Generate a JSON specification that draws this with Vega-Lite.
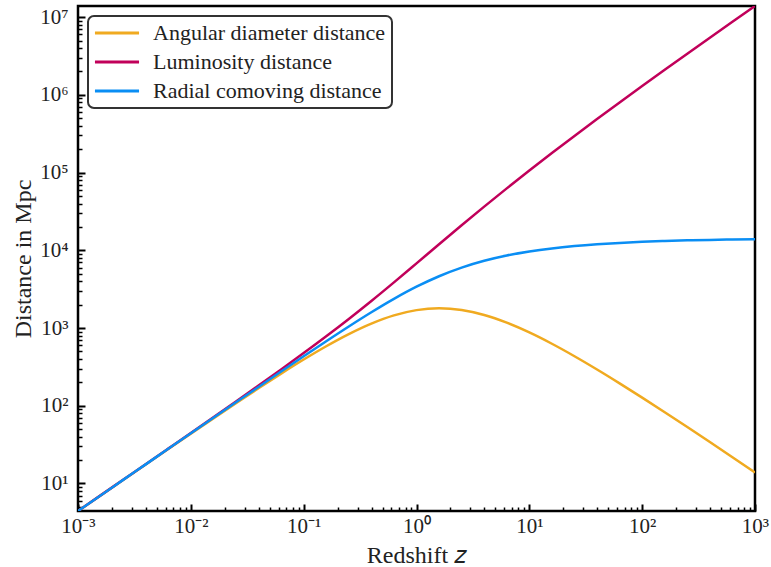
{
  "$schema": "https://vega.github.io/schema/vega-lite/v6.json",
  "autosize": {"type": "none"},
  "padding": {"left": 78, "top": 6, "right": 16, "bottom": 56},
  "width": 677,
  "height": 505,
  "background": "white",
  "config": {
    "view": {"stroke": "black", "strokeWidth": 2.5},
    "font": "Liberation Serif",
    "axis": {
      "domain": false,
      "grid": false,
      "tickColor": "black",
      "labelColor": "#222222",
      "titleColor": "#222222",
      "labelFont": "Liberation Serif",
      "titleFont": "Liberation Serif",
      "labelFontSize": 21,
      "titleFontSize": 24,
      "titleFontWeight": "normal",
      "labelOverlap": false,
      "labelFlush": false,
      "labelBound": false
    },
    "legend": {
      "labelFont": "Liberation Serif",
      "labelFontSize": 22,
      "labelColor": "#222222",
      "labelLimit": 0,
      "symbolType": "M-3,0L3,0",
      "symbolStrokeWidth": 3,
      "symbolSize": 216,
      "symbolOffset": 12,
      "strokeColor": "#333333",
      "strokeWidth": 2,
      "fillColor": "white",
      "cornerRadius": 6,
      "padding": 6,
      "rowPadding": 7,
      "labelOffset": 25
    }
  },
  "data": {
    "values": [
      {"z": 0.001, "d": 4.426, "series": "Angular diameter distance"},
      {"z": 0.001585, "d": 7.007, "series": "Angular diameter distance"},
      {"z": 0.002512, "d": 11.096, "series": "Angular diameter distance"},
      {"z": 0.003981, "d": 17.55, "series": "Angular diameter distance"},
      {"z": 0.00631, "d": 27.74, "series": "Angular diameter distance"},
      {"z": 0.01, "d": 43.77, "series": "Angular diameter distance"},
      {"z": 0.01585, "d": 68.88, "series": "Angular diameter distance"},
      {"z": 0.02512, "d": 107.94, "series": "Angular diameter distance"},
      {"z": 0.03981, "d": 168.06, "series": "Angular diameter distance"},
      {"z": 0.0631, "d": 259.08, "series": "Angular diameter distance"},
      {"z": 0.1, "d": 393.3, "series": "Angular diameter distance"},
      {"z": 0.1585, "d": 583.3, "series": "Angular diameter distance"},
      {"z": 0.2512, "d": 835.8, "series": "Angular diameter distance"},
      {"z": 0.3981, "d": 1140.1, "series": "Angular diameter distance"},
      {"z": 0.631, "d": 1453.6, "series": "Angular diameter distance"},
      {"z": 1, "d": 1699.1, "series": "Angular diameter distance"},
      {"z": 1.585, "d": 1794.2, "series": "Angular diameter distance"},
      {"z": 2.512, "d": 1705.0, "series": "Angular diameter distance"},
      {"z": 3.981, "d": 1471.2, "series": "Angular diameter distance"},
      {"z": 6.31, "d": 1171.9, "series": "Angular diameter distance"},
      {"z": 10, "d": 877.5, "series": "Angular diameter distance"},
      {"z": 15.85, "d": 627.4, "series": "Angular diameter distance"},
      {"z": 25.12, "d": 433.9, "series": "Angular diameter distance"},
      {"z": 39.81, "d": 292.9, "series": "Angular diameter distance"},
      {"z": 63.1, "d": 194.3, "series": "Angular diameter distance"},
      {"z": 100, "d": 127.25, "series": "Angular diameter distance"},
      {"z": 158.5, "d": 82.57, "series": "Angular diameter distance"},
      {"z": 251.2, "d": 53.22, "series": "Angular diameter distance"},
      {"z": 398.1, "d": 34.12, "series": "Angular diameter distance"},
      {"z": 631, "d": 21.79, "series": "Angular diameter distance"},
      {"z": 1000, "d": 13.87, "series": "Angular diameter distance"},
      {"z": 0.001, "d": 4.434, "series": "Luminosity distance"},
      {"z": 0.001585, "d": 7.029, "series": "Luminosity distance"},
      {"z": 0.002512, "d": 11.152, "series": "Luminosity distance"},
      {"z": 0.003981, "d": 17.69, "series": "Luminosity distance"},
      {"z": 0.00631, "d": 28.10, "series": "Luminosity distance"},
      {"z": 0.01, "d": 44.65, "series": "Luminosity distance"},
      {"z": 0.01585, "d": 71.08, "series": "Luminosity distance"},
      {"z": 0.02512, "d": 113.43, "series": "Luminosity distance"},
      {"z": 0.03981, "d": 181.71, "series": "Luminosity distance"},
      {"z": 0.0631, "d": 292.81, "series": "Luminosity distance"},
      {"z": 0.1, "d": 475.9, "series": "Luminosity distance"},
      {"z": 0.1585, "d": 782.8, "series": "Luminosity distance"},
      {"z": 0.2512, "d": 1308.5, "series": "Luminosity distance"},
      {"z": 0.3981, "d": 2228.4, "series": "Luminosity distance"},
      {"z": 0.631, "d": 3866.8, "series": "Luminosity distance"},
      {"z": 1, "d": 6796.2, "series": "Luminosity distance"},
      {"z": 1.585, "d": 11989, "series": "Luminosity distance"},
      {"z": 2.512, "d": 21030, "series": "Luminosity distance"},
      {"z": 3.981, "d": 36501, "series": "Luminosity distance"},
      {"z": 6.31, "d": 62625, "series": "Luminosity distance"},
      {"z": 10, "d": 106179, "series": "Luminosity distance"},
      {"z": 15.85, "d": 178138, "series": "Luminosity distance"},
      {"z": 25.12, "d": 296018, "series": "Luminosity distance"},
      {"z": 39.81, "d": 487802, "series": "Luminosity distance"},
      {"z": 63.1, "d": 798237, "series": "Luminosity distance"},
      {"z": 100, "d": 1298052, "series": "Luminosity distance"},
      {"z": 158.5, "d": 2100615, "series": "Luminosity distance"},
      {"z": 251.2, "d": 3384776, "series": "Luminosity distance"},
      {"z": 398.1, "d": 5434545, "series": "Luminosity distance"},
      {"z": 631, "d": 8702640, "series": "Luminosity distance"},
      {"z": 1000, "d": 13900887, "series": "Luminosity distance"},
      {"z": 0.001, "d": 4.430, "series": "Radial comoving distance"},
      {"z": 0.001585, "d": 7.018, "series": "Radial comoving distance"},
      {"z": 0.002512, "d": 11.124, "series": "Radial comoving distance"},
      {"z": 0.003981, "d": 17.62, "series": "Radial comoving distance"},
      {"z": 0.00631, "d": 27.92, "series": "Radial comoving distance"},
      {"z": 0.01, "d": 44.21, "series": "Radial comoving distance"},
      {"z": 0.01585, "d": 69.97, "series": "Radial comoving distance"},
      {"z": 0.02512, "d": 110.65, "series": "Radial comoving distance"},
      {"z": 0.03981, "d": 174.75, "series": "Radial comoving distance"},
      {"z": 0.0631, "d": 275.43, "series": "Radial comoving distance"},
      {"z": 0.1, "d": 432.6, "series": "Radial comoving distance"},
      {"z": 0.1585, "d": 675.7, "series": "Radial comoving distance"},
      {"z": 0.2512, "d": 1045.8, "series": "Radial comoving distance"},
      {"z": 0.3981, "d": 1593.9, "series": "Radial comoving distance"},
      {"z": 0.631, "d": 2370.8, "series": "Radial comoving distance"},
      {"z": 1, "d": 3398.1, "series": "Radial comoving distance"},
      {"z": 1.585, "d": 4637.9, "series": "Radial comoving distance"},
      {"z": 2.512, "d": 5988.1, "series": "Radial comoving distance"},
      {"z": 3.981, "d": 7328, "series": "Radial comoving distance"},
      {"z": 6.31, "d": 8567, "series": "Radial comoving distance"},
      {"z": 10, "d": 9652.6, "series": "Radial comoving distance"},
      {"z": 15.85, "d": 10572, "series": "Radial comoving distance"},
      {"z": 25.12, "d": 11333, "series": "Radial comoving distance"},
      {"z": 39.81, "d": 11953, "series": "Radial comoving distance"},
      {"z": 63.1, "d": 12453, "series": "Radial comoving distance"},
      {"z": 100, "d": 12852, "series": "Radial comoving distance"},
      {"z": 158.5, "d": 13170, "series": "Radial comoving distance"},
      {"z": 251.2, "d": 13421, "series": "Radial comoving distance"},
      {"z": 398.1, "d": 13617, "series": "Radial comoving distance"},
      {"z": 631, "d": 13770, "series": "Radial comoving distance"},
      {"z": 1000, "d": 13887, "series": "Radial comoving distance"}
    ]
  },
  "mark": {"type": "line", "strokeWidth": 2.5, "interpolate": "monotone", "clip": true},
  "encoding": {
    "x": {
      "field": "z",
      "type": "quantitative",
      "scale": {"type": "log", "domain": [0.001, 1000], "nice": false},
      "axis": {
        "title": "Redshift 𝑧",
        "titlePadding": 4,
        "values": [0.001,0.002,0.003,0.004,0.005,0.006,0.007,0.008,0.009,0.01,0.02,0.03,0.04,0.05,0.06,0.07,0.08,0.09,0.1,0.2,0.3,0.4,0.5,0.6,0.7,0.8,0.9,1,2,3,4,5,6,7,8,9,10,20,30,40,50,60,70,80,90,100,200,300,400,500,600,700,800,900,1000],
        "labelExpr": "abs(log(datum.value)/LN10 - round(log(datum.value)/LN10)) < 0.001 ? '10' + ['⁻³','⁻²','⁻¹','⁰','¹','²','³','⁴','⁵','⁶','⁷'][round(log(datum.value)/LN10) + 3] : ''",
        "tickSize": {"condition": {"test": "abs(log(datum.value)/LN10 - round(log(datum.value)/LN10)) < 0.001", "value": -7}, "value": -4},
        "tickWidth": {"condition": {"test": "abs(log(datum.value)/LN10 - round(log(datum.value)/LN10)) < 0.001", "value": 2}, "value": 1.5},
        "labelPadding": 11
      }
    },
    "y": {
      "field": "d",
      "type": "quantitative",
      "scale": {"type": "log", "domain": [4.426, 13900887], "nice": false},
      "axis": {
        "title": "Distance in Mpc",
        "titlePadding": 4,
        "values": [5,6,7,8,9,10,20,30,40,50,60,70,80,90,100,200,300,400,500,600,700,800,900,1000,2000,3000,4000,5000,6000,7000,8000,9000,10000,20000,30000,40000,50000,60000,70000,80000,90000,100000,200000,300000,400000,500000,600000,700000,800000,900000,1000000,2000000,3000000,4000000,5000000,6000000,7000000,8000000,9000000,10000000],
        "labelExpr": "abs(log(datum.value)/LN10 - round(log(datum.value)/LN10)) < 0.001 ? '10' + ['⁻³','⁻²','⁻¹','⁰','¹','²','³','⁴','⁵','⁶','⁷'][round(log(datum.value)/LN10) + 3] : ''",
        "tickSize": {"condition": {"test": "abs(log(datum.value)/LN10 - round(log(datum.value)/LN10)) < 0.001", "value": -7}, "value": -4},
        "tickWidth": {"condition": {"test": "abs(log(datum.value)/LN10 - round(log(datum.value)/LN10)) < 0.001", "value": 2}, "value": 1.5},
        "labelPadding": 17
      }
    },
    "color": {
      "field": "series",
      "type": "nominal",
      "scale": {
        "domain": ["Angular diameter distance", "Luminosity distance", "Radial comoving distance"],
        "range": ["#F0AA20", "#C1005A", "#0A8EF4"]
      },
      "legend": {"title": null, "orient": "top-left", "offset": 10}
    }
  }
}
